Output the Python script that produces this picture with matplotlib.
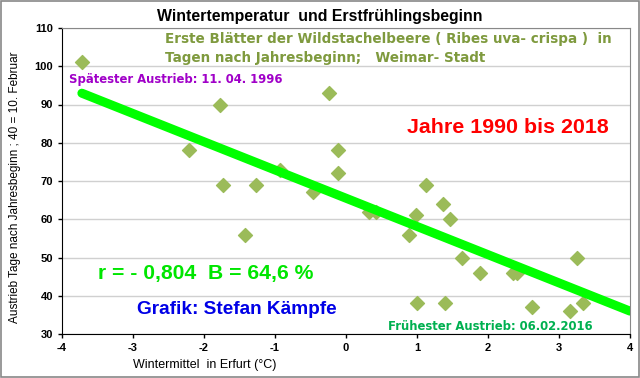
import matplotlib.pyplot as plt
import numpy as np

plt.rcParams['font.family'] = ['Liberation Sans', 'DejaVu Sans']

# Wintermittel Erfurt (°C) und Austriebstag der Wildstachelbeere (Tage nach Jahresbeginn)
wintermittel = [-3.72, -2.21, -1.77, -1.73, -1.42, -1.27, -0.93, -0.46, -0.24, -0.11,
                -0.11, 0.32, 0.42, 0.89, 0.99, 1.00, 1.13, 1.37, 1.39, 1.46,
                1.63, 1.89, 2.35, 2.41, 2.62, 3.15, 3.25, 3.34]
austrieb = [101, 78, 90, 69, 56, 69, 73, 67, 93, 78,
            72, 62, 62, 56, 61, 38, 69, 64, 38, 60,
            50, 46, 46, 46, 37, 36, 50, 38]

trend_steigung = -7.38
trend_achse = 65.5
trend_x = [-3.72, 4.0]

x_ticks = [-4, -3, -2, -1, 0, 1, 2, 3, 4]
y_ticks = [30, 40, 50, 60, 70, 80, 90, 100, 110]

fig = plt.figure(figsize=(6.4, 3.78), dpi=100)
ax = fig.add_axes([62 / 640, 1 - 334 / 378, 568 / 640, 306 / 378])

# Rahmen um die ganze Grafik
fig.patches.append(plt.Rectangle((0.002, 0.003), 0.996, 0.994, transform=fig.transFigure,
                                 fill=False, edgecolor='#888888', linewidth=1.2))

ax.scatter(wintermittel, austrieb, marker='D', s=50, color='#9bbb59', zorder=3)

xs = np.array(trend_x)
ax.plot(xs, trend_steigung * xs + trend_achse, color='#00ff00', linewidth=6.5,
        solid_capstyle='round', zorder=4)

ax.set_xlim(-4, 4)
ax.set_ylim(30, 110)
ax.set_xticks(x_ticks)
ax.set_yticks(y_ticks)
ax.set_xticklabels([str(t) for t in x_ticks], fontweight='bold', fontsize=8)
ax.set_yticklabels([str(t) for t in y_ticks], fontweight='bold', fontsize=8)
ax.tick_params(direction='out', length=3, width=1)
ax.grid(axis='y', color='#d0d0d0', linewidth=1)
ax.set_axisbelow(True)
for side in ['top', 'right']:
    ax.spines[side].set_color('#888888')
ax.spines['left'].set_color('black')
ax.spines['bottom'].set_color('black')

fig.text(205 / 640, 1 - 365 / 378, 'Wintermittel  in Erfurt (°C)', ha='center', va='center',
         fontsize=9)
fig.text(15 / 640, 1 - 187 / 378, 'Austrieb Tage nach Jahresbeginn ; 40 = 10. Februar',
         ha='center', va='center', rotation=90, fontsize=8.5)

breit = ['DejaVu Sans']

fig.text(0.5, 1 - 17 / 378, 'Wintertemperatur  und Erstfrühlingsbeginn', ha='center', va='center',
         fontsize=11.4, fontweight='bold')
fig.text(165 / 640, 1 - 39 / 378, 'Erste Blätter der Wildstachelbeere ( Ribes uva- crispa )  in',
         ha='left', va='center', fontsize=9.75, fontweight='bold', color='#7f9a3e', family=breit)
fig.text(165 / 640, 1 - 58 / 378, 'Tagen nach Jahresbeginn;   Weimar- Stadt',
         ha='left', va='center', fontsize=9.75, fontweight='bold', color='#7f9a3e', family=breit)
fig.text(69 / 640, 1 - 79 / 378, 'Spätester Austrieb: 11. 04. 1996',
         ha='left', va='center', fontsize=8.4, fontweight='bold', color='#a000c8', family=breit)
fig.text(407 / 640, 1 - 127 / 378, 'Jahre 1990 bis 2018',
         ha='left', va='center', fontsize=15.4, fontweight='bold', color='#ff0000')
fig.text(98 / 640, 1 - 274 / 378, 'r = - 0,804  B = 64,6 %',
         ha='left', va='center', fontsize=15.2, fontweight='bold', color='#00e600')
fig.text(137 / 640, 1 - 309 / 378, 'Grafik: Stefan Kämpfe',
         ha='left', va='center', fontsize=13.7, fontweight='bold', color='#0000e6')
fig.text(388 / 640, 1 - 326 / 378, 'Frühester Austrieb: 06.02.2016',
         ha='left', va='center', fontsize=8.4, fontweight='bold', color='#00b050', family=breit)

fig.savefig('out.png', dpi=100)
